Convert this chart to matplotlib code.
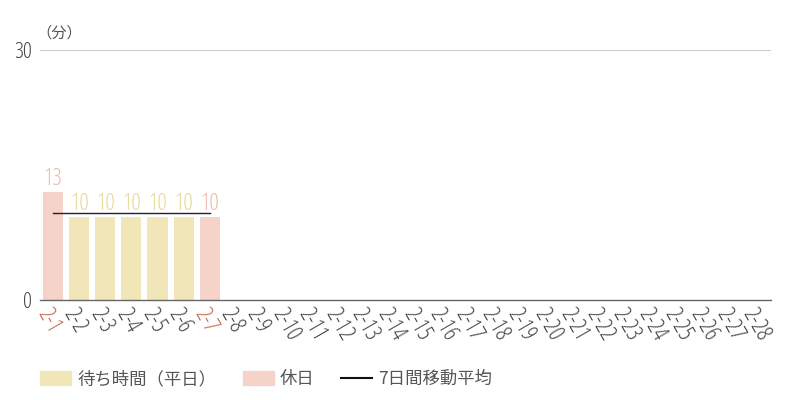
import matplotlib
matplotlib.use('Agg')
import matplotlib.pyplot as plt
from matplotlib.patches import Patch
from matplotlib.lines import Line2D
from matplotlib.font_manager import FontProperties

plt.rcParams['font.family'] = ['Open Sans', 'Noto Sans CJK JP', 'DejaVu Sans']

days = ['2-%d' % d for d in range(1, 29)]
waits = [13, 10, 10, 10, 10, 10, 10]
holidays = [True, False, False, False, False, False, True]
moving_avg = [10.4, 10.4, 10.4, 10.4, 10.4, 10.4, 10.4]

weekday_color = '#f0e6b8'
holiday_color = '#f5d3c8'
weekday_text = '#e6d894'
holiday_text = '#eeb9a6'
holiday_tick = '#c4694c'

cond = dict(family='Open Sans', stretch='condensed', weight='light')

fig = plt.figure(figsize=(8, 4), dpi=100)
ax = fig.add_axes([0.05, 0.25, 0.914, 0.625])

for i, v in enumerate(waits):
    c = holiday_color if holidays[i] else weekday_color
    tc = holiday_text if holidays[i] else weekday_text
    ax.bar(i, v, width=0.77, color=c)
    ax.text(i, v + 0.1, str(v), ha='center', va='bottom',
            color=tc, fontproperties=FontProperties(size=17, **cond))

ax.plot(range(len(moving_avg)), moving_avg, color='#222222', lw=1)

ax.set_xlim(-0.5, len(days) - 0.5)
ax.set_ylim(0, 30)
ax.set_yticks([0, 30])
ax.set_yticklabels(['0', '30'], color='#444444',
                   fontproperties=FontProperties(size=16, **cond))
ax.axhline(30, color='#cccccc', lw=0.8)
ax.set_xticks(range(len(days)))
ax.set_xticklabels(days, rotation=-60, ha='left', va='top',
                   rotation_mode='anchor', color='#444444',
                   fontproperties=FontProperties(size=16.5, **cond))
for i, lab in enumerate(ax.get_xticklabels()):
    if i < len(holidays) and holidays[i]:
        lab.set_color(holiday_tick)
ax.tick_params(axis='x', length=0, pad=3)
ax.tick_params(axis='y', length=0, pad=6)
for s in ['top', 'right', 'left']:
    ax.spines[s].set_visible(False)
ax.spines['bottom'].set_color('#666666')
ax.spines['bottom'].set_linewidth(1)

fig.text(0.046, 0.905, '（分）', fontsize=11, color='#555555',
         family=['Noto Sans CJK JP', 'DejaVu Sans'])

handles = [Patch(color=weekday_color), Patch(color=holiday_color),
           Line2D([], [], color='#111111', lw=1.5)]
labels = ['待ち時間（平日）', '休日', '7日間移動平均']
fig.legend(handles, labels, loc='center left', bbox_to_anchor=(0.05, 0.052),
           ncol=3, frameon=False, borderpad=0, borderaxespad=0,
           handlelength=1.8, handleheight=0.9, columnspacing=1.5,
           handletextpad=0.36, labelcolor='#555555',
           prop={'family': ['Noto Sans CJK JP', 'DejaVu Sans'], 'size': 12.5})

fig.savefig('out.png', dpi=100)
